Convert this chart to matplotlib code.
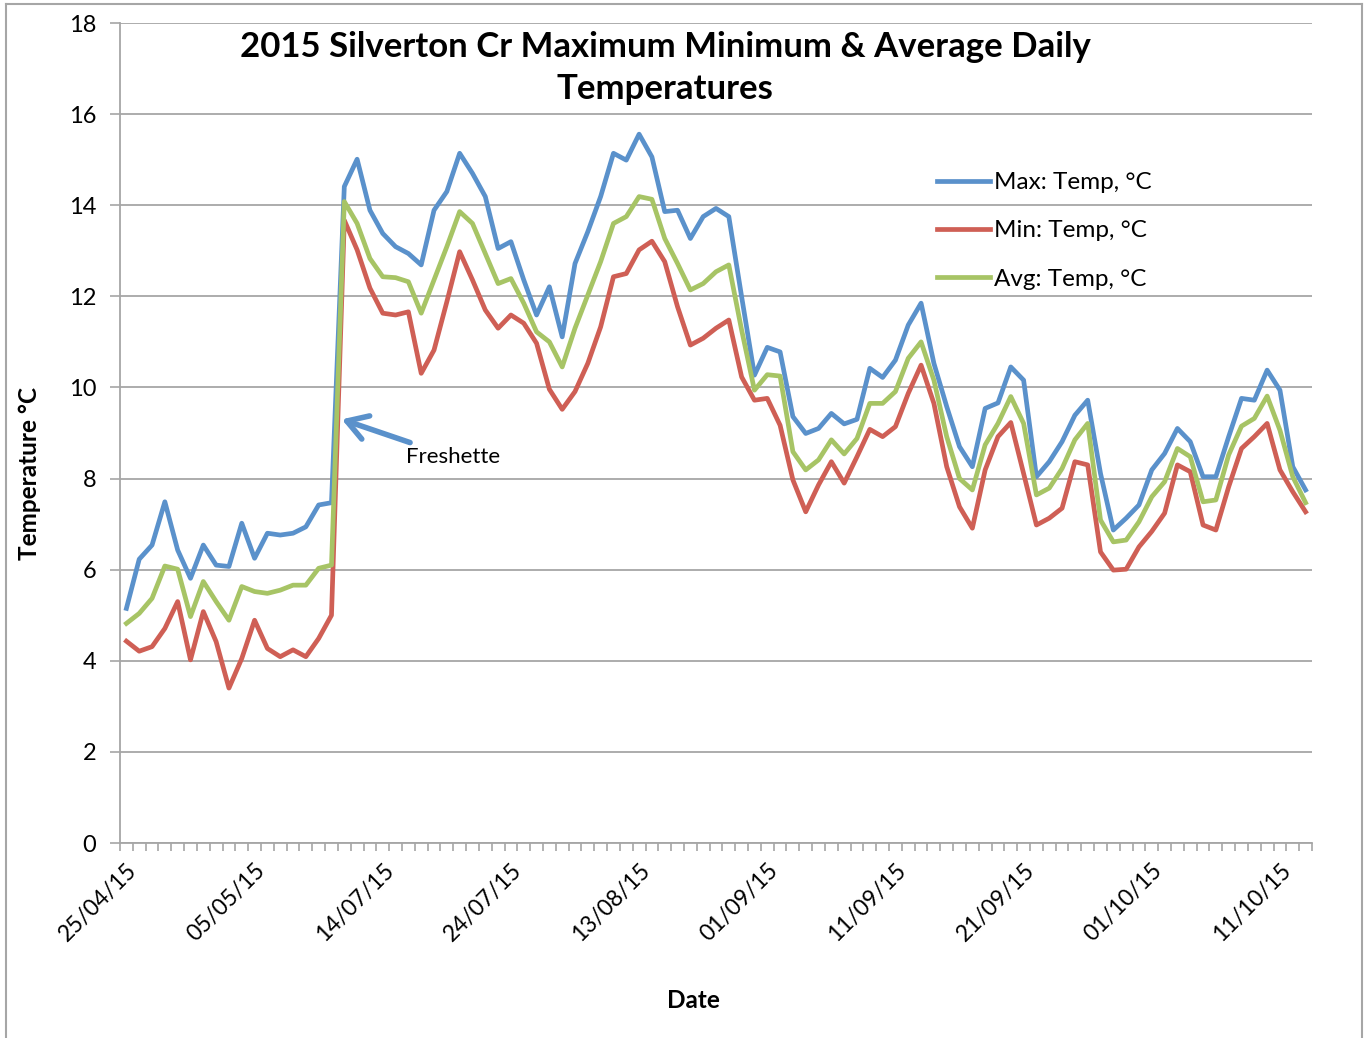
import matplotlib
matplotlib.use('Agg')
import matplotlib.pyplot as plt
from matplotlib.lines import Line2D
import numpy as np
import pandas as pd

plt.rcParams['font.family'] = ['Lato', 'DejaVu Sans']

# Dates (category axis, irregular sampling)
dates = pd.date_range('2015-04-25', '2015-05-11').append([
    pd.date_range('2015-07-11', '2015-07-24'),
    pd.date_range('2015-07-26', '2015-08-13', freq='2D'),
    pd.date_range('2015-08-15', '2015-08-31', freq='2D'),
    pd.date_range('2015-09-01', '2015-10-13'),
])
date_labels = list(dates.strftime('%d/%m/%y'))

max_temp = [5.15, 6.23, 6.54, 7.49, 6.43, 5.81, 6.54, 6.10, 6.07, 7.02, 6.25, 6.80, 6.76, 6.80, 6.94, 7.42, 7.47,
            14.41, 15.01, 13.89, 13.38, 13.09, 12.94, 12.69, 13.89, 14.30, 15.14, 14.70, 14.19, 13.05, 13.20, 12.36, 11.59, 12.21, 11.11,
            12.72, 13.42, 14.19, 15.14, 14.99, 15.56, 15.06, 13.86, 13.89, 13.27, 13.75, 13.93, 13.75, 11.99, 10.27, 10.88, 10.78,
            9.36, 8.99, 9.10, 9.43, 9.20, 9.30, 10.42, 10.22, 10.60, 11.37, 11.85, 10.53, 9.58, 8.70, 8.26,
            9.54, 9.66, 10.45, 10.16, 8.04, 8.37, 8.81, 9.39, 9.72, 8.11, 6.87, 7.13, 7.42, 8.19,
            8.55, 9.10, 8.81, 8.04, 8.04, 8.92, 9.76, 9.72, 10.38, 9.94, 8.26, 7.75]

min_temp = [4.43, 4.21, 4.31, 4.71, 5.30, 4.02, 5.08, 4.42, 3.40, 4.05, 4.89, 4.27, 4.09, 4.24, 4.09, 4.49, 5.00,
            13.67, 13.02, 12.18, 11.63, 11.59, 11.66, 10.31, 10.82, 11.88, 12.98, 12.36, 11.70, 11.30, 11.59, 11.41, 10.97, 9.96, 9.52,
            9.91, 10.53, 11.33, 12.43, 12.50, 13.02, 13.21, 12.76, 11.77, 10.93, 11.08, 11.30, 11.48, 10.23, 9.72, 9.76, 9.17,
            7.97, 7.27, 7.86, 8.37, 7.90, 8.48, 9.08, 8.92, 9.14, 9.87, 10.49, 9.65, 8.26, 7.38, 6.91,
            8.19, 8.92, 9.23, 8.11, 6.98, 7.13, 7.35, 8.37, 8.30, 6.39, 5.99, 6.01, 6.50, 6.84,
            7.24, 8.30, 8.15, 6.98, 6.87, 7.82, 8.66, 8.92, 9.21, 8.19, 7.71, 7.27]

avg_temp = [4.82, 5.04, 5.37, 6.08, 6.01, 4.97, 5.74, 5.30, 4.89, 5.63, 5.52, 5.48, 5.55, 5.66, 5.66, 6.03, 6.10,
            14.08, 13.60, 12.83, 12.43, 12.41, 12.32, 11.63, 12.36, 13.09, 13.86, 13.60, 12.94, 12.28, 12.39, 11.85, 11.22, 11.00, 10.45,
            11.30, 12.03, 12.76, 13.60, 13.75, 14.19, 14.13, 13.27, 12.72, 12.14, 12.28, 12.54, 12.69, 11.26, 9.94, 10.28, 10.25,
            8.59, 8.19, 8.41, 8.85, 8.54, 8.88, 9.65, 9.65, 9.91, 10.64, 11.00, 10.16, 8.92, 8.00, 7.75,
            8.74, 9.21, 9.80, 9.21, 7.64, 7.79, 8.22, 8.85, 9.21, 7.09, 6.61, 6.65, 7.05, 7.60,
            7.93, 8.66, 8.48, 7.49, 7.53, 8.52, 9.15, 9.32, 9.81, 9.06, 8.04, 7.47]

series_names = ['Max: Temp, °C', 'Min: Temp, °C', 'Avg: Temp, °C']
colors = ['#5A91CB', '#CF5F55', '#A7C465']
grid_col = '#a6a6a6'

fig = plt.figure(figsize=(13.67, 10.38), dpi=100)
ax = fig.add_axes([120 / 1367, 1 - 843 / 1038, 1192 / 1367, 820 / 1038])

x = np.arange(len(date_labels))
for vals, name, c in zip([max_temp, min_temp, avg_temp], series_names, colors):
    ax.plot(x, vals, color=c, lw=3.4, label=name, solid_joinstyle='round')

ax.set_xlim(-0.5, len(x) - 0.5)
ax.set_ylim(0, 18)
ax.set_yticks(np.arange(0, 19, 2))
ax.yaxis.grid(True, color=grid_col, lw=1.3)
ax.set_axisbelow(True)

ax.set_xticks(x[::10])
ax.set_xticklabels(date_labels[::10], rotation=45, ha='right', rotation_mode='anchor')
ax.set_xticks(np.arange(-0.5, len(x), 1), minor=True)
ax.tick_params(axis='x', which='major', length=0, labelsize=16.5, pad=12)
ax.tick_params(axis='x', which='minor', length=6, color=grid_col, width=1.2)
ax.tick_params(axis='y', length=7, color=grid_col, width=1.2, labelsize=17, pad=10)

for s in ['top', 'right']:
    ax.spines[s].set_visible(False)
for s in ['left', 'bottom']:
    ax.spines[s].set_color(grid_col)
    ax.spines[s].set_linewidth(1.3)

fig.text(30 / 1367, 1 - 473 / 1038, 'Temperature °C', rotation=90, ha='center', va='center',
         fontsize=17.5, fontweight='bold')
fig.text(693 / 1367, 1 - 1000 / 1038, 'Date', ha='center', va='center', fontsize=17.5, fontweight='bold')

fig.text(665 / 1367, 1 - 68 / 1038, '2015 Silverton Cr Maximum Minimum & Average Daily\nTemperatures',
         ha='center', va='center', fontsize=25, fontweight='bold', linespacing=1.42)

ax.legend(loc='upper left', bbox_to_anchor=(937 / 1367, 1 - 172 / 1038), bbox_transform=fig.transFigure,
          frameon=False, fontsize=17.5, handlelength=2.2, handletextpad=0.15, labelspacing=1.13,
          borderpad=0, borderaxespad=0)

ax.annotate('Freshette', xy=(16.8, 9.3), xytext=(21.8, 8.47), fontsize=16, va='center', ha='left',
            arrowprops=dict(arrowstyle='->,head_length=0.9,head_width=0.55', color=colors[0], lw=4,
                            shrinkA=4, shrinkB=0))

# chart-area border
for xs, ys in [([6, 6], [4, 1038]), ([6, 1362], [4, 4]), ([1362, 1362], [4, 1038])]:
    fig.add_artist(Line2D([v / 1367 for v in xs], [1 - v / 1038 for v in ys], color=grid_col, lw=1.5))

fig.savefig('out.png', dpi=100)
